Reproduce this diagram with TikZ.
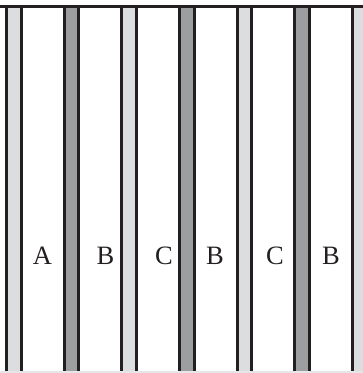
\documentclass[tikz,border=0pt]{standalone}
\usepackage{fontspec}
\setmainfont{Liberation Serif}
\usetikzlibrary{positioning}
\definecolor{ink}{HTML}{231F20}
\definecolor{lightgrey}{HTML}{DCDDDE}
\definecolor{midgrey}{HTML}{9D9E9F}
\definecolor{paleline}{HTML}{E6E6E6}

\begin{document}
\begin{tikzpicture}[
    x=1pt, y=1pt,
    stripline/.style={draw=ink, line width=3pt},
    letter/.style={font=\fontsize{26.5}{30}\selectfont, text=ink, inner sep=0pt, anchor=base}
]
    \useasboundingbox (0,0) rectangle (363,373);

    % Strips
    \foreach \i/\col in {0/lightgrey,1/midgrey,2/lightgrey,3/midgrey,4/lightgrey,5/midgrey,6/lightgrey} {
        \pgfmathsetmacro{\xl}{5+57.67*\i}
        \fill[\col] (\xl,0) rectangle ++(17.5,366);
        \draw[stripline] (\xl+1.5,0) -- (\xl+1.5,366);
        \draw[stripline] (\xl+16,0) -- (\xl+16,366);
    }

    % Top and bottom edges
    \coordinate (topL) at (0,366.2);
    \coordinate (topR) at (363,366.2);
    \draw[stripline] (topL) -- (topR);
    \coordinate (botL) at (0,1);
    \coordinate (botR) at (363,1);
    \draw[paleline, line width=2pt] (botL) -- (botR);

    % Labels
    \foreach \name/\x/\txt in {lblA/42.5/A, lblBa/105.5/B, lblCa/164/C, lblBb/215/B, lblCb/275/C, lblBc/331/B} {
        \node[letter] (\name) at (\x,108) {\txt};
    }

\end{tikzpicture}
\end{document}
